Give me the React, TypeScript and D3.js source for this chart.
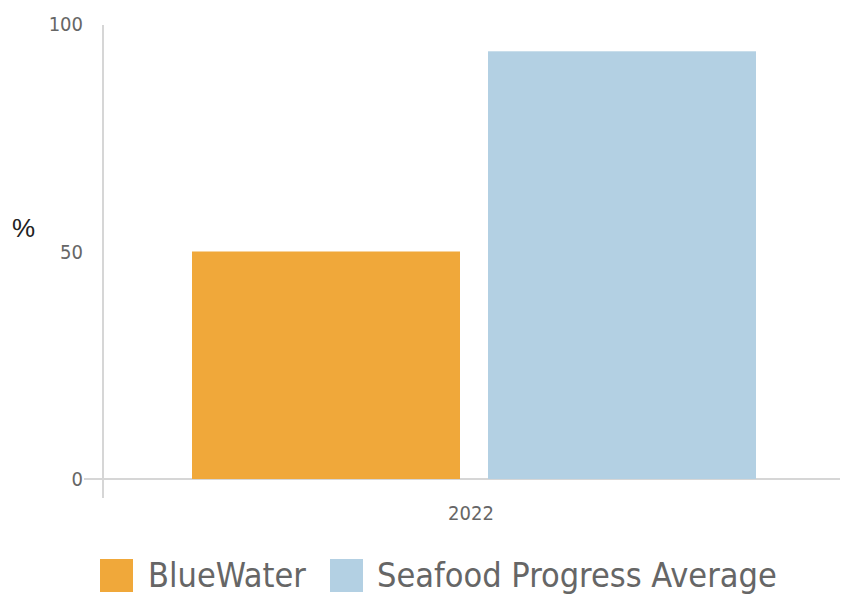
import React from "react";
import * as d3 from "d3";

const categories = ["2022"];
const seriesNames = ["BlueWater", "Seafood Progress Average"];
const seriesColors = ["#F0A83A", "#B3D0E3"];
const blueWaterValues = [50];
const seafoodAvgValues = [94];
const yTicks = [0, 50, 100];

const W = 842;
const H = 598;
const FONT = "'Liberation Sans Narrow', 'DejaVu Sans Condensed', 'Roboto Condensed', 'Liberation Sans', sans-serif";

export default function App() {
  const y = d3.scaleLinear().domain([0, 100]).range([479, 24]);
  const x = d3.scaleBand<string>().domain(categories).range([106, 842]).paddingOuter(0.1525).paddingInner(0);
  const inner = d3.scaleBand<string>().domain(seriesNames).range([0, x.bandwidth()]).paddingInner(0.0946).paddingOuter(0);
  const series = [blueWaterValues, seafoodAvgValues];

  return (
    <svg width={W} height={H} style={{ position: "absolute", left: 0, top: 0, background: "#fff" }}>
      <line x1={103} x2={103} y1={25} y2={498} stroke="#d6d6d6" strokeWidth={2} />
      <line x1={84} x2={840} y1={y(0)} y2={y(0)} stroke="#d6d6d6" strokeWidth={2} />
      {yTicks.map((t) => (
        <text key={t} x={83} y={y(t)} dy="0.35em" textAnchor="end" fontFamily={FONT} fontSize={20} fill="#666">
          {t}
        </text>
      ))}
      <text x={12} y={228} dy="0.35em" fontFamily="'Liberation Sans', Arial, sans-serif" fontSize={26} fill="#222">%</text>
      {categories.map((c, i) => (
        <g key={c}>
          {seriesNames.map((s, j) => (
            <rect
              key={s}
              x={(x(c) ?? 0) + (inner(s) ?? 0)}
              width={inner.bandwidth()}
              y={y(series[j][i])}
              height={y(0) - y(series[j][i])}
              fill={seriesColors[j]}
            />
          ))}
          <text x={471} y={513} dy="0.35em" textAnchor="middle" fontFamily={FONT} fontSize={20} fill="#666">
            {c}
          </text>
        </g>
      ))}
      <g>
        <rect x={100} y={559} width={33} height={33} fill={seriesColors[0]} />
        <text x={148} y={575} dy="0.35em" fontFamily={FONT} fontSize={34} fill="#666">{seriesNames[0]}</text>
        <rect x={330} y={559} width={33} height={33} fill={seriesColors[1]} />
        <text x={377} y={575} dy="0.35em" fontFamily={FONT} fontSize={34} fill="#666">{seriesNames[1]}</text>
      </g>
    </svg>
  );
}
